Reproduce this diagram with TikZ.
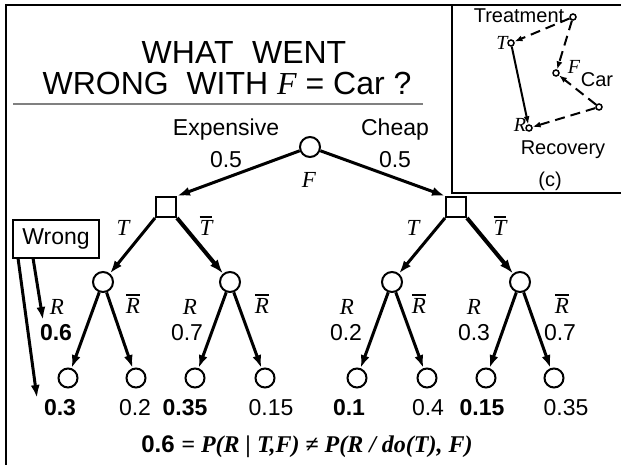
\documentclass[tikz,border=0pt]{standalone}
\usepackage{fontspec}
\setmainfont{Liberation Sans}
\newfontfamily\tms{Liberation Serif}
\usetikzlibrary{arrows.meta}
\newcommand{\mi}[1]{{\tms\itshape #1}}
\newcommand{\ovl}[1]{\vbox{\hrule height 1.6pt\kern 2.5pt\hbox{\tms\itshape #1}}}
\tikzset{
  chance/.style={circle, draw, line width=2pt, minimum size=20pt, inner sep=0pt},
  leaf/.style={circle, draw, line width=2pt, minimum size=19pt, inner sep=0pt},
  decis/.style={rectangle, draw, line width=2pt, minimum size=20pt, inner sep=0pt},
  arr/.style={line width=3pt, -{Latex[length=13pt,width=9pt]}},
  arrB/.style={line width=4pt, -{Latex[length=14pt,width=10pt]}},
  lbl/.style={font=\fontsize{23}{26}\selectfont, inner sep=0pt},
  ttl/.style={font=\fontsize{32}{36}\selectfont, inner sep=0pt, anchor=base},
  sml/.style={font=\fontsize{20}{23}\selectfont, inner sep=0pt},
  cnode/.style={circle, draw, line width=1.5pt, minimum size=6pt, inner sep=0pt},
  carr/.style={line width=2pt, -{Latex[length=8pt,width=6pt]}},
  cdash/.style={carr, dash pattern=on 10pt off 6pt},
  frame/.style={line width=2pt}
}
\begin{document}
\begin{tikzpicture}[x=1pt,y=-1pt]
\useasboundingbox (0,0) rectangle (621,465);
% frame
\coordinate (fBL) at (6,465);
\coordinate (fTL) at (6,5);
\coordinate (fTR) at (621,5);
\draw[frame] (fBL) -- (fTL) -- (fTR);
\coordinate (cTL) at (452,5);
\coordinate (cBL) at (452,193);
\coordinate (cBR) at (621,193);
\draw[frame] (cTL) -- (cBL) -- (cBR);
\coordinate (sepL) at (13,104);
\coordinate (sepR) at (423,104);
\draw[line width=2pt, gray] (sepL) -- (sepR);
% title
\node[ttl] (t1) at (244,64) {WHAT\hspace{0.3em} WENT};
\node[ttl] (t2) at (227,95) {WRONG\ \ WITH \mi{F} = Car ?};
% tree nodes
\node[chance] (root) at (310,147) {};
\node[decis] (sqL) at (166,207) {};
\node[decis] (sqR) at (456,207) {};
\node[chance] (cLL) at (103,282) {};
\node[chance] (cLR) at (230,282) {};
\node[chance] (cRL) at (392,282) {};
\node[chance] (cRR) at (520,282) {};
\node[leaf] (l1) at (68,378) {};
\node[leaf] (l2) at (136,378) {};
\node[leaf] (l3) at (195,378) {};
\node[leaf] (l4) at (265,378) {};
\node[leaf] (l5) at (357,378) {};
\node[leaf] (l6) at (427,378) {};
\node[leaf] (l7) at (486,378) {};
\node[leaf] (l8) at (554,378) {};
% edges
\draw[arr] (root) -- (sqL.north east);
\draw[arr] (root) -- (sqR.north west);
\draw[arr] (sqL.south west) -- (cLL);
\draw[arrB] (sqL.south east) -- (cLR);
\draw[arr] (sqR.south west) -- (cRL);
\draw[arrB] (sqR.south east) -- (cRR);
\draw[arr] (cLL) -- (l1);
\draw[arr] (cLL) -- (l2);
\draw[arr] (cLR) -- (l3);
\draw[arr] (cLR) -- (l4);
\draw[arr] (cRL) -- (l5);
\draw[arr] (cRL) -- (l6);
\draw[arr] (cRR) -- (l7);
\draw[arr] (cRR) -- (l8);
% labels
\node[lbl] (exp) at (226,130) {Expensive};
\node[lbl] (p1) at (226,160) {0.5};
\node[lbl] (chp) at (395,130) {Cheap};
\node[lbl] (p2) at (395,160) {0.5};
\node[lbl] (fl) at (309,180) {\mi{F}};
\node[lbl] (tL) at (123,228) {\mi{T}};
\node[lbl] (tbL) at (206,226) {\ovl{T}};
\node[lbl] (tR) at (413,228) {\mi{T}};
\node[lbl] (tbR) at (500,226) {\ovl{T}};
\node[lbl] (r1) at (57,307) {\mi{R}};
\node[lbl] (rb1) at (133,304) {\ovl{R}};
\node[lbl] (r2) at (190,307) {\mi{R}};
\node[lbl] (rb2) at (262,304) {\ovl{R}};
\node[lbl] (r3) at (347,307) {\mi{R}};
\node[lbl] (rb3) at (419,304) {\ovl{R}};
\node[lbl] (r4) at (474,307) {\mi{R}};
\node[lbl] (rb4) at (562,304) {\ovl{R}};
\node[lbl] (q1) at (56,333) {\bfseries 0.6};
\node[lbl] (q2) at (187,333) {0.7};
\node[lbl] (q3) at (346,333) {0.2};
\node[lbl] (q4) at (474,333) {0.3};
\node[lbl] (q5) at (560,333) {0.7};
\node[lbl] (v1) at (60,408) {\bfseries 0.3};
\node[lbl] (v2) at (135,408) {0.2};
\node[lbl] (v3) at (185,408) {\bfseries 0.35};
\node[lbl] (v4) at (271,408) {0.15};
\node[lbl] (v5) at (349,408) {\bfseries 0.1};
\node[lbl] (v6) at (428,408) {0.4};
\node[lbl] (v7) at (482,408) {\bfseries 0.15};
\node[lbl] (v8) at (566,408) {0.35};
\node[lbl, font=\fontsize{24}{27}\selectfont] (eq) at (307,447) {\bfseries 0.6 {\tms\itshape = P(R | T,F) ≠ P(R / do(T), F)}};
% wrong box
\node[lbl, draw, line width=1.5pt, minimum width=86pt, minimum height=38pt] (wrong) at (56,239) {Wrong};
\coordinate (w1s) at (18,258);
\coordinate (w2s) at (33,258);
\coordinate (w1e) at (37,398);
\coordinate (w2e) at (43,320);
\draw[arr] (w1s) -- (w1e);
\draw[arr] (w2s) -- (w2e);
% panel (c)
\node[cnode] (ctr) at (573,17) {};
\node[cnode] (cT) at (511,43) {};
\node[cnode] (cF) at (556,73) {};
\node[cnode] (cX) at (599,107) {};
\node[cnode] (cR) at (529,128) {};
\node[sml] (trt) at (519,16) {Treatment};
\node[sml] (cTl) at (502,43) {\mi{T}};
\node[sml] (cFl) at (574,67) {\mi{F}};
\node[sml] (car) at (597,80) {Car};
\node[sml] (cRl) at (520,125) {\mi{R}};
\node[sml] (rec) at (563,150) {Recovery};
\node[sml] (lc) at (550,181) {(c)};
\draw[cdash] (ctr) -- (cT);
\draw[cdash] (ctr) -- (cF);
\draw[cdash] (cX) -- (cF);
\draw[cdash] (cX) -- (cR);
\draw[carr] (cT) -- (cR);
\end{tikzpicture}
\end{document}
